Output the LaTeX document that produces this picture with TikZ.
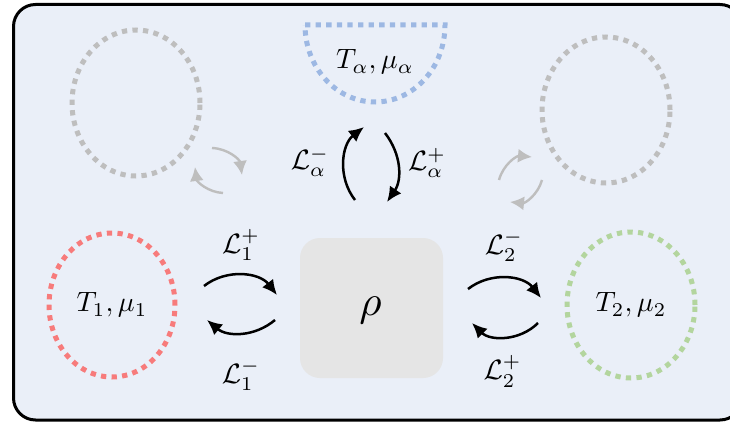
\documentclass[tikz,border=0pt]{standalone}
\usetikzlibrary{arrows.meta,shapes.geometric}
\definecolor{framebg}{HTML}{EAEFF8}
\definecolor{redres}{HTML}{F77B7B}
\definecolor{greenres}{HTML}{B3D59E}
\definecolor{blueres}{HTML}{9DB8E3}
\definecolor{grayres}{HTML}{BEBEBE}
\definecolor{rhobox}{HTML}{E5E5E5}
\tikzset{
  lab/.style={scale=2.8, inner sep=0pt},
  resv/.style={line width=5pt, dash pattern=on 5.3pt off 5.3pt, ellipse, inner sep=0pt},
  flow/.style={line width=2.5pt, -{Latex[length=15pt,width=14pt]}},
  ghostflow/.style={line width=2.4pt, grayres, -{Latex[length=14pt,width=14pt]}},
}
\begin{document}
\begin{tikzpicture}[x=1pt,y=1pt]
\useasboundingbox (0,0) rectangle (730,421);
\clip (0,0) rectangle (730,421);
% frame
\draw[line width=3pt, fill=framebg, rounded corners=22pt] (13.5,1) rectangle (742,416.5);
% reservoirs
\node[draw=redres, resv, minimum width=126pt, minimum height=144pt] (r1) at (112,116) {};
\node[lab] (t1) at (112,116) {$T_1,\mu_1$};
\node[draw=greenres, resv, minimum width=128pt, minimum height=146pt] (r2) at (631,116) {};
\node[lab] (t2) at (631,116) {$T_2,\mu_2$};
\node[draw=grayres, resv, minimum width=128pt, minimum height=146pt] (gl) at (136,318) {};
\node[draw=grayres, resv, minimum width=128pt, minimum height=146pt] (gr) at (606,311) {};
% alpha semicircle
\draw[blueres, line width=5pt, dash pattern=on 5.3pt off 5.3pt] (305,396) -- (445,396) arc[start angle=0, end angle=-180, x radius=70, y radius=77] -- cycle;
\node[lab] (ta) at (375,359) {$T_\alpha,\mu_\alpha$};
% system
\node[fill=rhobox, rounded corners=20pt, minimum width=143pt, minimum height=140pt, inner sep=0pt] (rho) at (371.5,113) {};
\node[scale=4.3, inner sep=0pt] (rl) at (370.5,111) {$\rho$};
% connector endpoints
\coordinate (a1s) at (204,135); \coordinate (a1e) at (277,126);
\coordinate (b1s) at (275,101); \coordinate (b1e) at (207,101);
\coordinate (a2s) at (468,132); \coordinate (a2e) at (541,123);
\coordinate (b2s) at (538,98);  \coordinate (b2e) at (472,98);
\coordinate (ams) at (355,221); \coordinate (ame) at (364,294);
\coordinate (aps) at (385,288); \coordinate (ape) at (387,219);
\coordinate (g1s) at (212,273); \coordinate (g1e) at (242,246);
\coordinate (g2s) at (223,228); \coordinate (g2e) at (195,254);
\coordinate (g3s) at (499,241); \coordinate (g3e) at (532,264);
\coordinate (g4s) at (542,241); \coordinate (g4e) at (510,219);
% flows
\draw[flow] (a1s) to[bend left=45] (a1e);
\draw[flow] (b1s) to[bend left=40] (b1e);
\draw[flow] (a2s) to[bend left=45] (a2e);
\draw[flow] (b2s) to[bend left=45] (b2e);
\draw[flow] (ams) to[bend left=45] (ame);
\draw[flow] (aps) to[bend left=36] (ape);
\draw[ghostflow] (g1s) to[bend left=40] (g1e);
\draw[ghostflow] (g2s) to[bend left=40] (g2e);
\draw[ghostflow] (g3s) to[bend left=40] (g3e);
\draw[ghostflow] (g4s) to[bend left=40] (g4e);
% labels
\node[lab] (l1p) at (241,176) {$\mathcal{L}_1^+$};
\node[lab] (l1m) at (241,46) {$\mathcal{L}_1^-$};
\node[lab] (l2m) at (504,175) {$\mathcal{L}_2^-$};
\node[lab] (l2p) at (502.5,49.5) {$\mathcal{L}_2^+$};
\node[lab] (lam) at (310,259) {$\mathcal{L}_\alpha^-$};
\node[lab] (lap) at (427,258) {$\mathcal{L}_\alpha^+$};
\end{tikzpicture}
\end{document}
